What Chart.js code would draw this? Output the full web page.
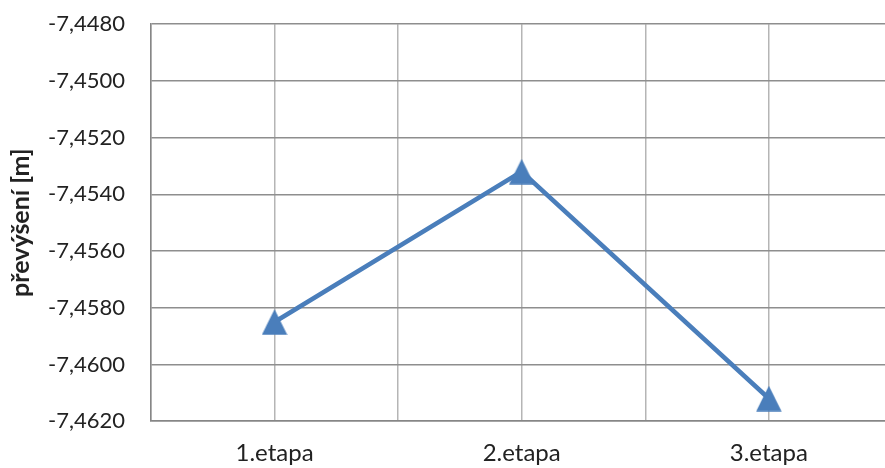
<!DOCTYPE html>
<html>
<head>
<meta charset="utf-8">
<script src="https://cdn.jsdelivr.net/npm/chart.js@4/dist/chart.umd.min.js"></script>
<style>
  html, body { margin: 0; padding: 0; background: #ffffff; overflow: hidden; }
  canvas { display: block; }
</style>
</head>
<body>
<canvas id="chart" width="910" height="468"></canvas>
<script>
// Measurement stages and height difference per stage
const categories = ['1.etapa', '2.etapa', '3.etapa'];
const heightDiff = [-7.4585, -7.4532, -7.4612];
const yTickValues = [-7.4620, -7.4600, -7.4580, -7.4560, -7.4540, -7.4520, -7.4500, -7.4480];
const yTitle = 'převýšení [m]';

const FONT = 'Lato, "Open Sans", sans-serif';
const TEXT = '#222222';
const CLEAR = 'rgba(0,0,0,0)';
const BLUE = '#4a7ebb';

// Triangle marker centred on its bounding box
function triangleMarker(size, color) {
  const c = document.createElement('canvas');
  c.width = size; c.height = size;
  const g = c.getContext('2d');
  g.fillStyle = color;
  g.beginPath();
  g.moveTo(size / 2, 0.3);
  g.lineTo(size - 0.3, size - 0.3);
  g.lineTo(0.3, size - 0.3);
  g.closePath();
  g.fill();
  return c;
}

function draw() {
  const marker = triangleMarker(26, BLUE);
  new Chart(document.getElementById('chart'), {
    type: 'line',
    data: {
      labels: categories,
      datasets: [{
        data: heightDiff,
        xAxisID: 'x',
        yAxisID: 'y',
        borderColor: BLUE,
        backgroundColor: BLUE,
        borderWidth: 4.6,
        pointStyle: marker,
        pointRadius: 13,
        pointHoverRadius: 13,
        tension: 0
      }]
    },
    options: {
      responsive: false,
      animation: false,
      // the plot runs past the right edge of the page on purpose
      layout: { padding: { top: 0, right: 15, bottom: 0, left: 0 } },
      plugins: { legend: { display: false }, tooltip: { enabled: false } },
      scales: {
        x: {
          type: 'category',
          position: 'bottom',
          offset: true,
          // invisible tick marks act as the gap between axis and labels
          grid: { offset: false, color: '#b5b5b5', lineWidth: 1.5, drawTicks: true, tickLength: 18, tickColor: CLEAR },
          border: { color: '#868686', width: 1.5 },
          ticks: { color: TEXT, font: { family: FONT, size: 24 }, padding: 0, maxRotation: 0 }
        },
        x2: {
          type: 'category',
          position: 'bottom',
          labels: categories,
          offset: true,
          grid: { offset: true, color: '#b5b5b5', lineWidth: 1.5, drawTicks: false },
          border: { display: false },
          ticks: { display: false }
        },
        y: {
          type: 'linear',
          min: yTickValues[0],
          max: yTickValues[yTickValues.length - 1],
          afterBuildTicks: (scale) => { scale.ticks = yTickValues.map(v => ({ value: v })); },
          grid: { color: '#8e8e8e', lineWidth: 1.5, drawTicks: true, tickLength: 15, tickColor: CLEAR },
          border: { color: '#868686', width: 1.5 },
          ticks: {
            color: TEXT,
            font: { family: FONT, size: 22 },
            padding: 11,
            callback: (v) => Number(v).toFixed(4).replace('.', ',')
          },
          title: {
            display: true,
            text: yTitle,
            color: '#222222',
            font: { family: FONT, size: 25, weight: 'bold' },
            padding: { top: 6, bottom: 1 }
          }
        }
      }
    }
  });
}

// Make sure the text faces are ready before the scales measure their labels
Promise.all([
  document.fonts.load('22px Lato'),
  document.fonts.load('24px Lato'),
  document.fonts.load('bold 25px Lato')
]).then(draw, draw);
</script>
</body>
</html>
